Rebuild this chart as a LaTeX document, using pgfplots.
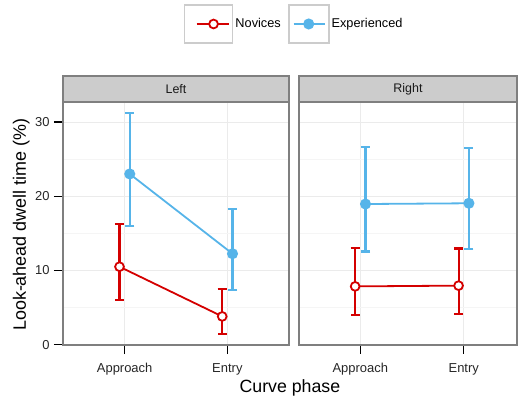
\documentclass[border=0pt]{standalone}
\usepackage{fontspec}
\setmainfont{Liberation Sans}
\usepackage{pgfplots}
\usepackage{pgfplotstable}
\pgfplotsset{compat=1.18}
\definecolor{nov}{HTML}{D40000}
\definecolor{expc}{HTML}{56B4E9}
\definecolor{gridmaj}{HTML}{EBEBEB}
\definecolor{gridmin}{HTML}{F5F5F5}
\definecolor{frame}{HTML}{7F7F7F}
\definecolor{strip}{HTML}{CCCCCC}

% x  y  error-plus  error-minus
\pgfplotstableread{
x y ep em
0.95 10.5 5.8 4.5
1.95 3.8 3.7 2.4
}\novL
\pgfplotstableread{
x y ep em
1.05 23.0 8.2 7.0
2.05 12.25 6.05 4.85
}\expL
\pgfplotstableread{
x y ep em
0.95 7.85 5.15 3.9
1.95 7.95 5.0 3.8
}\novR
\pgfplotstableread{
x y ep em
1.05 18.95 7.65 6.4
2.05 19.05 7.45 6.2
}\expR

\pgfplotsset{
  panel/.style={
    scale only axis, height=243bp, ymin=-0.05, ymax=32.7,
    axis line style={frame, line width=1.2bp},
    xtick={1,2}, xticklabels={Approach,Entry},
    ytick={0,10,20,30}, minor ytick={5,15,25},
    grid=both,
    major grid style={gridmaj, line width=1bp},
    minor grid style={gridmin, line width=0.8bp},
    tick align=outside, tick pos=left,
    major tick length=9bp, minor tick length=0pt,
    major tick style={black, line width=1.3bp},
    ticklabel style={font=\fontsize{13}{15}\selectfont, text=black!85},
    xticklabel style={yshift=-6bp},
    yticklabel style={xshift=-1bp},
    /pgf/number format/assume math mode=true,
    clip=false,
  },
  novstyle/.style={nov, line width=1.8bp, mark=*, mark size=4.4bp,
    mark options={fill=white, draw=nov, line width=1.8bp, solid},
    /pgfplots/error bars/y dir=both, /pgfplots/error bars/y explicit,
    /pgfplots/every error bar/.append style={line width=2.1bp, draw=nov},
    /pgfplots/error bars/error mark options={rotate=90, draw=nov, line width=2.1bp, mark size=4.5bp}},
  expstyle/.style={expc, line width=1.8bp, mark=*, mark size=4.6bp,
    mark options={fill=expc, draw=expc, line width=1.8bp, solid},
    /pgfplots/error bars/y dir=both, /pgfplots/error bars/y explicit,
    /pgfplots/every error bar/.append style={line width=2.1bp, draw=expc},
    /pgfplots/error bars/error mark options={rotate=90, draw=expc, line width=2.1bp, mark size=4.5bp}},
}

\begin{document}
\begin{tikzpicture}
\useasboundingbox (0,0) rectangle (518bp,400bp);
% Left panel
\begin{axis}[panel, at={(63bp,55bp)}, anchor=south west, width=226bp,
  xmin=0.4, xmax=2.6,
  ylabel={Look-ahead dwell time (\%)},
  ylabel style={font=\fontsize{18}{20}\selectfont, at={(axis description cs:-0.185,0.495)}, anchor=center},
  xlabel={Curve phase},
  xlabel style={font=\fontsize{17.8}{20}\selectfont, at={(axis description cs:1.004,-0.197)}, anchor=base},
  legend style={draw=none, fill=none, at={(axis description cs:1.0225,1.321)}, anchor=center,
    legend columns=-1, font=\fontsize{12.8}{14}\selectfont,
    nodes={inner sep=2bp},
    /tikz/every even column/.append style={column sep=5bp}},
  legend cell align=left,
]
\addplot[legend image code/.code={
    \draw[draw=strip, line width=1.8bp, fill=white] (0bp,-19bp) rectangle (48bp,19bp);
    \draw[nov, line width=1.8bp, mark repeat=2, mark phase=2] plot coordinates {(12bp,0bp) (29bp,0bp) (44bp,0bp)};
  }, novstyle] table[x=x, y=y, y error plus=ep, y error minus=em] {\novL};
\addlegendentry{Novices}
\addplot[legend image code/.code={
    \draw[draw=strip, line width=1.8bp, fill=white] (0bp,-19bp) rectangle (40bp,19bp);
    \draw[expc, line width=1.8bp, mark repeat=2, mark phase=2] plot coordinates {(5bp,0bp) (20bp,0bp) (36bp,0bp)};
  }, expstyle] table[x=x, y=y, y error plus=ep, y error minus=em] {\expL};
\addlegendentry{Experienced}
\draw[draw=frame, fill=strip, line width=1.2bp] (rel axis cs:0,1) rectangle ([yshift=26bp]rel axis cs:1,1);
\node[font=\fontsize{12.5}{14}\selectfont, text=black!90] at ([yshift=13bp]rel axis cs:0.5,1) {Left};
\end{axis}
% Right panel
\begin{axis}[panel, at={(299bp,55bp)}, anchor=south west, width=218bp,
  xmin=0.407, xmax=2.515,
  yticklabels={}, ytick style={draw=none},
]
\addplot[novstyle] table[x=x, y=y, y error plus=ep, y error minus=em] {\novR};
\addplot[expstyle] table[x=x, y=y, y error plus=ep, y error minus=em] {\expR};
\draw[draw=frame, fill=strip, line width=1.2bp] (rel axis cs:0,1) rectangle ([yshift=26bp]rel axis cs:1,1);
\node[font=\fontsize{12.5}{14}\selectfont, text=black!90] at ([yshift=13bp]rel axis cs:0.5,1) {Right};
\end{axis}
\end{tikzpicture}
\end{document}
